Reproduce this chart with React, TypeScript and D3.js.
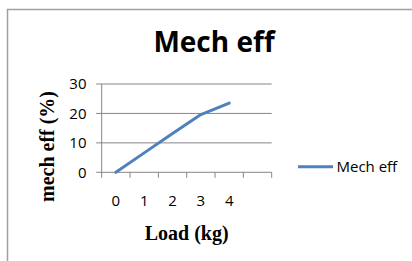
import React from "react";
import * as d3 from "d3";

const categories = ["0", "1", "2", "3", "4", ""];
const seriesName = "Mech eff";
const mechEff = [0, 6.6, 13.2, 19.6, 23.5];
const yTicks = [0, 10, 20, 30];

export default function App() {
  const W = 412, H = 261;
  const plot = { left: 101.7, right: 271.7, top: 84, bottom: 172.3 };
  const x = d3.scaleBand<string>().domain(categories.map((c, i) => String(i))).range([plot.left, plot.right]);
  const y = d3.scaleLinear().domain([0, 30]).range([plot.bottom, plot.top]);
  const cx = (i: number) => (x(String(i)) as number) + x.bandwidth() / 2;
  const line = d3.line<number>().x((_, i) => cx(i)).y((d) => y(d));
  const tickXs = categories.map((_, i) => x(String(i)) as number).concat([plot.right]);
  const grid = "#868686";
  const sans = "'Open Sans', sans-serif";
  const serif = "'Liberation Serif', 'Times New Roman', serif";
  return (
    <svg width={W} height={H} style={{ position: "absolute", left: 0, top: 0 }}>
      <rect x={0} y={0} width={W} height={H} fill="#fff" />
      <rect x={7.5} y={9.5} width={420} height={300} fill="none" stroke="#a0a0a0" strokeWidth={1.5} />
      <text x={214} y={51.7} textAnchor="middle" fontFamily={sans} fontWeight="bold" fontSize={28} fill="#000">Mech eff</text>
      {yTicks.map((t) => (
        <g key={t}>
          <line x1={plot.left - 5.5} x2={plot.right} y1={y(t)} y2={y(t)} stroke={grid} strokeWidth={1} />
          <text x={86.5} y={y(t) + 5.4} textAnchor="end" fontFamily={sans} fontSize={15} fill="#000">{t}</text>
        </g>
      ))}
      <line x1={plot.left} x2={plot.left} y1={plot.top} y2={plot.bottom} stroke={grid} strokeWidth={1} />
      {tickXs.map((tx, i) => (
        <line key={i} x1={tx} x2={tx} y1={plot.bottom} y2={plot.bottom + 5.5} stroke={grid} strokeWidth={1} />
      ))}
      {categories.map((c, i) => (
        <text key={i} x={cx(i)} y={205.7} textAnchor="middle" fontFamily={sans} fontSize={15} fill="#000">{c}</text>
      ))}
      <path d={line(mechEff) || ""} fill="none" stroke="#4F81BD" strokeWidth={3} strokeLinejoin="round" strokeLinecap="round" />
      <text x={186.7} y={240} textAnchor="middle" fontFamily={serif} fontWeight="bold" fontSize={20} fill="#000">Load (kg)</text>
      <text transform={`translate(53.5,146.5) rotate(-90)`} textAnchor="middle" fontFamily={serif} fontWeight="bold" fontSize={20} fill="#000">mech eff (%)</text>
      <line x1={298} x2={333} y1={166.7} y2={166.7} stroke="#4F81BD" strokeWidth={3} />
      <text x={336.5} y={172.3} fontFamily={sans} fontSize={15} fill="#000">{seriesName}</text>
    </svg>
  );
}
